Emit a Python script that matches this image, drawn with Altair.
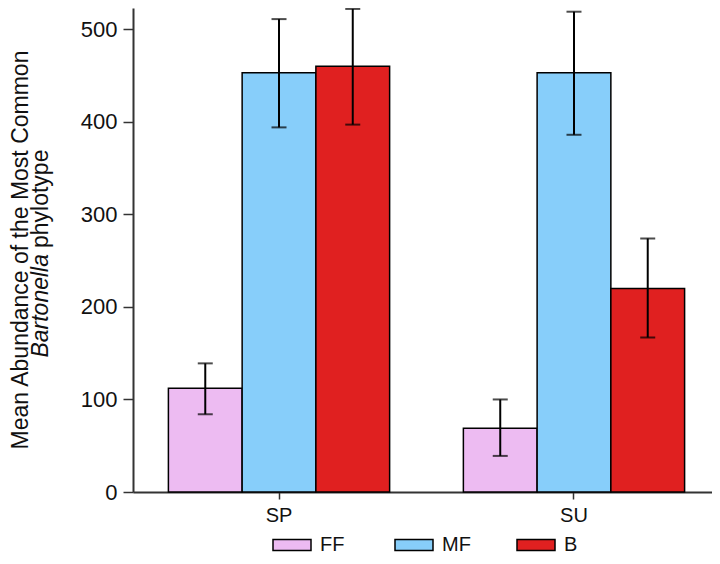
import altair as alt
import pandas as pd

# ---- data ----
seasons = ["SP", "SP", "SP", "SU", "SU", "SU"]
habitats = ["FF", "MF", "B", "FF", "MF", "B"]
means = [112, 453, 460, 69, 453, 220]
lows = [84, 394, 397, 39, 386, 167]
highs = [139, 511, 522, 100, 519, 274]

habitat_order = ["FF", "MF", "B"]
habitat_colors = ["#EDBBF2", "#87CEFA", "#E02020"]
y_ticks = [0, 100, 200, 300, 400, 500]

title_line1 = "Mean Abundance of the Most Common"
title_italic = "Bartonella"
title_rest = "phylotype"

df = pd.DataFrame(dict(season=seasons, habitat=habitats, mean=means, low=lows, high=highs))

FONT = "Liberation Sans"
INK = "#111111"
AXC = "#333333"

x_axis = alt.Axis(title=None, labelAngle=0, labelFontSize=20, labelFont=FONT, labelColor=INK,
                  labelPadding=6, tickSize=7, tickColor=AXC, tickWidth=1.5,
                  domainColor=AXC, domainWidth=2)
y_axis = alt.Axis(title=None, values=y_ticks, grid=False, labelFontSize=22, labelFont=FONT,
                  labelColor=INK, labelPadding=6, tickSize=10, tickColor=AXC, tickWidth=1.5,
                  domainColor=AXC, domainWidth=2)
x_scale = alt.Scale(paddingInner=0.25, paddingOuter=0.12, range=[0, 587])
y_scale = alt.Scale(domain=[0, 523], nice=False)

def X():
    return alt.X("season:N", scale=x_scale, axis=x_axis)

def XO():
    return alt.XOffset("habitat:N", sort=habitat_order,
                       scale=alt.Scale(domain=habitat_order, paddingInner=0, paddingOuter=0))

rect_path = "M-1,-0.29L1,-0.29L1,0.29L-1,0.29Z"

color = alt.Color(
    "habitat:N",
    sort=habitat_order,
    scale=alt.Scale(domain=habitat_order, range=habitat_colors),
    legend=alt.Legend(title=None, orient="none", legendX=139, legendY=517,
                      direction="horizontal", columns=3, gridAlign="all", columnPadding=43,
                      symbolType=rect_path, symbolSize=1444, symbolStrokeColor="black",
                      symbolStrokeWidth=1.5, symbolOpacity=1, labelFontSize=20, labelFont=FONT,
                      labelColor=INK, labelOffset=8, padding=0),
)

bars = alt.Chart(df).mark_bar(stroke="black", strokeWidth=1.5, opacity=1).encode(
    x=X(), xOffset=XO(),
    y=alt.Y("mean:Q", scale=y_scale, axis=y_axis),
    color=color,
)

rules = alt.Chart(df).mark_rule(color="black", strokeWidth=2).encode(
    x=X(), xOffset=XO(),
    y=alt.Y("low:Q", scale=y_scale, axis=y_axis),
    y2="high:Q",
)

cap_hi = alt.Chart(df).mark_tick(color="black", thickness=2, size=15, orient="horizontal").encode(
    x=X(), xOffset=XO(),
    y=alt.Y("high:Q", scale=y_scale, axis=y_axis),
)
cap_lo = alt.Chart(df).mark_tick(color="black", thickness=2, size=15, orient="horizontal").encode(
    x=X(), xOffset=XO(),
    y=alt.Y("low:Q", scale=y_scale, axis=y_axis),
)

t1 = alt.Chart(pd.DataFrame({"t": [title_line1]})).mark_text(
    angle=270, fontSize=23, font=FONT, baseline="middle", align="center", color=INK
).encode(x=alt.value(-112), y=alt.value(242), text="t:N")

t2a = alt.Chart(pd.DataFrame({"t": [title_italic]})).mark_text(
    angle=270, fontSize=23, font=FONT, fontStyle="italic", baseline="middle", align="right", color=INK
).encode(x=alt.value(-92.5), y=alt.value(246), text="t:N")

t2b = alt.Chart(pd.DataFrame({"t": [title_rest]})).mark_text(
    angle=270, fontSize=23, font=FONT, baseline="middle", align="left", color=INK
).encode(x=alt.value(-92.5), y=alt.value(240), text="t:N")

chart = alt.layer(bars, rules, cap_hi, cap_lo, t1, t2a, t2b).properties(
    width=579, height=484,
    autosize=alt.AutoSizeParams(type="none"),
    padding={"left": 125, "top": 0, "right": 0, "bottom": 64},
).configure_view(stroke=None)

chart.save("out.html", embed_options={"renderer": "svg", "actions": False})
